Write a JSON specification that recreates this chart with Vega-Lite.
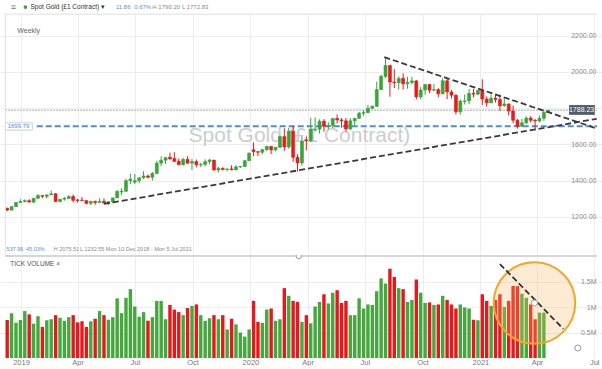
{
  "$schema": "https://vega.github.io/schema/vega-lite/v6.json",
  "padding": 0,
  "background": "white",
  "spacing": 0,
  "config": {"view": {"stroke": null}, "font": "Liberation Sans"},
  "datasets": {
    "ohlc": [
      {"d":"2018-12-10","o":1248,"h":1252,"l":1232.55,"c":1238,"v":0.745},
      {"d":"2018-12-17","o":1238,"h":1260,"l":1236,"c":1257,"v":0.88},
      {"d":"2018-12-24","o":1257,"h":1283,"l":1255,"c":1280,"v":0.69},
      {"d":"2018-12-31","o":1280,"h":1298,"l":1276,"c":1285,"v":0.745},
      {"d":"2019-01-07","o":1285,"h":1297,"l":1280,"c":1290,"v":0.92},
      {"d":"2019-01-14","o":1290,"h":1298,"l":1281,"c":1282,"v":0.856},
      {"d":"2019-01-21","o":1282,"h":1304,"l":1276,"c":1303,"v":0.673},
      {"d":"2019-01-28","o":1303,"h":1326,"l":1300,"c":1318,"v":0.82},
      {"d":"2019-02-04","o":1318,"h":1319,"l":1304,"c":1314,"v":0.61},
      {"d":"2019-02-11","o":1314,"h":1323,"l":1302,"c":1322,"v":0.74},
      {"d":"2019-02-18","o":1322,"h":1346,"l":1321,"c":1328,"v":0.76},
      {"d":"2019-02-25","o":1328,"h":1332,"l":1283,"c":1285,"v":0.84},
      {"d":"2019-03-04","o":1285,"h":1300,"l":1280,"c":1298,"v":0.79},
      {"d":"2019-03-11","o":1298,"h":1311,"l":1290,"c":1302,"v":0.73},
      {"d":"2019-03-18","o":1302,"h":1320,"l":1299,"c":1313,"v":0.80},
      {"d":"2019-03-25","o":1313,"h":1324,"l":1281,"c":1292,"v":0.84},
      {"d":"2019-04-01","o":1294,"h":1300,"l":1280,"c":1291,"v":0.70},
      {"d":"2019-04-08","o":1293,"h":1310,"l":1289,"c":1290,"v":0.72},
      {"d":"2019-04-15","o":1290,"h":1293,"l":1270,"c":1275,"v":0.61},
      {"d":"2019-04-22","o":1275,"h":1289,"l":1266,"c":1286,"v":0.72},
      {"d":"2019-04-29","o":1286,"h":1290,"l":1267,"c":1280,"v":0.77},
      {"d":"2019-05-06","o":1280,"h":1303,"l":1279,"c":1286,"v":0.92},
      {"d":"2019-05-13","o":1286,"h":1303,"l":1275,"c":1277,"v":0.84},
      {"d":"2019-05-20","o":1277,"h":1287,"l":1266,"c":1284,"v":0.75},
      {"d":"2019-05-27","o":1284,"h":1306,"l":1276,"c":1305,"v":0.80},
      {"d":"2019-06-03","o":1305,"h":1348,"l":1305,"c":1341,"v":1.17},
      {"d":"2019-06-10","o":1338,"h":1358,"l":1321,"c":1342,"v":0.88},
      {"d":"2019-06-17","o":1342,"h":1411,"l":1337,"c":1400,"v":1.18},
      {"d":"2019-06-24","o":1400,"h":1439,"l":1382,"c":1409,"v":1.35},
      {"d":"2019-07-01","o":1392,"h":1437,"l":1382,"c":1400,"v":1.01},
      {"d":"2019-07-08","o":1400,"h":1419,"l":1387,"c":1416,"v":0.81},
      {"d":"2019-07-15","o":1416,"h":1452,"l":1410,"c":1426,"v":0.90},
      {"d":"2019-07-22","o":1426,"h":1434,"l":1412,"c":1419,"v":0.73},
      {"d":"2019-07-29","o":1419,"h":1448,"l":1400,"c":1440,"v":0.80},
      {"d":"2019-08-05","o":1440,"h":1510,"l":1438,"c":1497,"v":1.12},
      {"d":"2019-08-12","o":1497,"h":1535,"l":1480,"c":1513,"v":1.12},
      {"d":"2019-08-19","o":1513,"h":1531,"l":1492,"c":1527,"v":0.76},
      {"d":"2019-08-26","o":1530,"h":1555,"l":1516,"c":1520,"v":1.04},
      {"d":"2019-09-02","o":1522,"h":1557,"l":1503,"c":1507,"v":0.95},
      {"d":"2019-09-09","o":1507,"h":1522,"l":1485,"c":1488,"v":0.90},
      {"d":"2019-09-16","o":1488,"h":1527,"l":1484,"c":1517,"v":0.84},
      {"d":"2019-09-23","o":1517,"h":1535,"l":1491,"c":1497,"v":0.98},
      {"d":"2019-09-30","o":1497,"h":1519,"l":1459,"c":1505,"v":1.02},
      {"d":"2019-10-07","o":1505,"h":1517,"l":1474,"c":1488,"v":1.05},
      {"d":"2019-10-14","o":1488,"h":1498,"l":1475,"c":1490,"v":0.84},
      {"d":"2019-10-21","o":1490,"h":1518,"l":1480,"c":1505,"v":0.73},
      {"d":"2019-10-28","o":1505,"h":1520,"l":1490,"c":1514,"v":0.78},
      {"d":"2019-11-04","o":1514,"h":1514,"l":1456,"c":1459,"v":0.84},
      {"d":"2019-11-11","o":1459,"h":1477,"l":1445,"c":1468,"v":0.76},
      {"d":"2019-11-18","o":1468,"h":1474,"l":1456,"c":1462,"v":0.84},
      {"d":"2019-11-25","o":1462,"h":1466,"l":1452,"c":1465,"v":0.56},
      {"d":"2019-12-02","o":1465,"h":1485,"l":1458,"c":1460,"v":0.77},
      {"d":"2019-12-09","o":1460,"h":1486,"l":1458,"c":1476,"v":0.66},
      {"d":"2019-12-16","o":1476,"h":1482,"l":1470,"c":1478,"v":0.50},
      {"d":"2019-12-23","o":1478,"h":1515,"l":1477,"c":1510,"v":0.42},
      {"d":"2019-12-30","o":1510,"h":1555,"l":1509,"c":1552,"v":0.56},
      {"d":"2020-01-06","o":1570,"h":1611,"l":1535,"c":1560,"v":1.12},
      {"d":"2020-01-13","o":1560,"h":1563,"l":1536,"c":1557,"v":0.71},
      {"d":"2020-01-20","o":1557,"h":1575,"l":1546,"c":1571,"v":0.69},
      {"d":"2020-01-27","o":1571,"h":1592,"l":1563,"c":1589,"v":0.95},
      {"d":"2020-02-03","o":1589,"h":1590,"l":1547,"c":1570,"v":0.97},
      {"d":"2020-02-10","o":1570,"h":1584,"l":1562,"c":1584,"v":0.73},
      {"d":"2020-02-17","o":1584,"h":1649,"l":1581,"c":1643,"v":0.76},
      {"d":"2020-02-24","o":1643,"h":1689,"l":1563,"c":1586,"v":1.37},
      {"d":"2020-03-02","o":1586,"h":1692,"l":1576,"c":1673,"v":1.22},
      {"d":"2020-03-09","o":1673,"h":1703,"l":1504,"c":1529,"v":1.12},
      {"d":"2020-03-16","o":1529,"h":1546,"l":1451,"c":1498,"v":1.10},
      {"d":"2020-03-23","o":1498,"h":1645,"l":1483,"c":1617,"v":0.71},
      {"d":"2020-03-30","o":1625,"h":1644,"l":1567,"c":1620,"v":0.84},
      {"d":"2020-04-06","o":1620,"h":1747,"l":1613,"c":1683,"v":0.68},
      {"d":"2020-04-13","o":1680,"h":1748,"l":1670,"c":1684,"v":1.01},
      {"d":"2020-04-20","o":1684,"h":1738,"l":1659,"c":1728,"v":1.10},
      {"d":"2020-04-27","o":1728,"h":1739,"l":1670,"c":1700,"v":1.25},
      {"d":"2020-05-04","o":1700,"h":1722,"l":1683,"c":1703,"v":1.07},
      {"d":"2020-05-11","o":1703,"h":1745,"l":1690,"c":1743,"v":1.28},
      {"d":"2020-05-18","o":1743,"h":1765,"l":1716,"c":1735,"v":1.33},
      {"d":"2020-05-25","o":1735,"h":1745,"l":1692,"c":1730,"v":1.08},
      {"d":"2020-06-01","o":1730,"h":1745,"l":1670,"c":1685,"v":1.12},
      {"d":"2020-06-08","o":1685,"h":1745,"l":1680,"c":1730,"v":0.84},
      {"d":"2020-06-15","o":1730,"h":1745,"l":1705,"c":1744,"v":0.84},
      {"d":"2020-06-22","o":1744,"h":1779,"l":1741,"c":1772,"v":1.17},
      {"d":"2020-06-29","o":1772,"h":1789,"l":1757,"c":1775,"v":0.97},
      {"d":"2020-07-06","o":1775,"h":1818,"l":1772,"c":1799,"v":1.05},
      {"d":"2020-07-13","o":1799,"h":1815,"l":1795,"c":1810,"v":1.04},
      {"d":"2020-07-20","o":1810,"h":1945,"l":1808,"c":1902,"v":1.31},
      {"d":"2020-07-27","o":1902,"h":1984,"l":1900,"c":1975,"v":1.56},
      {"d":"2020-08-03","o":1975,"h":2075.51,"l":1965,"c":2035,"v":1.46},
      {"d":"2020-08-10","o":2035,"h":2039,"l":1863,"c":1944,"v":1.75},
      {"d":"2020-08-17","o":1944,"h":2015,"l":1911,"c":1940,"v":1.59},
      {"d":"2020-08-24","o":1940,"h":1976,"l":1902,"c":1964,"v":1.37},
      {"d":"2020-08-31","o":1964,"h":1992,"l":1902,"c":1934,"v":1.35},
      {"d":"2020-09-07","o":1934,"h":1973,"l":1907,"c":1941,"v":1.10},
      {"d":"2020-09-14","o":1941,"h":1973,"l":1931,"c":1950,"v":1.14},
      {"d":"2020-09-21","o":1950,"h":1955,"l":1848,"c":1862,"v":1.54},
      {"d":"2020-09-28","o":1862,"h":1917,"l":1848,"c":1900,"v":1.28},
      {"d":"2020-10-05","o":1900,"h":1933,"l":1873,"c":1930,"v":1.08},
      {"d":"2020-10-12","o":1930,"h":1932,"l":1882,"c":1899,"v":1.09},
      {"d":"2020-10-19","o":1899,"h":1933,"l":1893,"c":1902,"v":1.04},
      {"d":"2020-10-26","o":1902,"h":1910,"l":1860,"c":1879,"v":1.05},
      {"d":"2020-11-02","o":1879,"h":1965,"l":1876,"c":1951,"v":1.22},
      {"d":"2020-11-09","o":1951,"h":1966,"l":1850,"c":1889,"v":1.14},
      {"d":"2020-11-16","o":1889,"h":1900,"l":1853,"c":1871,"v":1.05},
      {"d":"2020-11-23","o":1871,"h":1876,"l":1765,"c":1780,"v":0.97},
      {"d":"2020-11-30","o":1780,"h":1848,"l":1764,"c":1839,"v":1.05},
      {"d":"2020-12-07","o":1837,"h":1875,"l":1820,"c":1840,"v":0.99},
      {"d":"2020-12-14","o":1840,"h":1906,"l":1823,"c":1881,"v":0.97},
      {"d":"2020-12-21","o":1881,"h":1906,"l":1860,"c":1877,"v":0.75},
      {"d":"2020-12-28","o":1877,"h":1900,"l":1872,"c":1898,"v":0.74},
      {"d":"2021-01-04","o":1898,"h":1959,"l":1817,"c":1850,"v":1.25},
      {"d":"2021-01-11","o":1850,"h":1864,"l":1808,"c":1829,"v":1.12},
      {"d":"2021-01-18","o":1829,"h":1875,"l":1827,"c":1855,"v":1.02},
      {"d":"2021-01-25","o":1855,"h":1875,"l":1831,"c":1848,"v":1.14},
      {"d":"2021-02-01","o":1848,"h":1875,"l":1785,"c":1813,"v":1.25},
      {"d":"2021-02-08","o":1813,"h":1855,"l":1807,"c":1823,"v":1.00},
      {"d":"2021-02-15","o":1823,"h":1825,"l":1760,"c":1784,"v":1.12},
      {"d":"2021-02-22","o":1784,"h":1815,"l":1717,"c":1733,"v":1.41},
      {"d":"2021-03-01","o":1733,"h":1740,"l":1687,"c":1700,"v":1.41},
      {"d":"2021-03-08","o":1700,"h":1740,"l":1699,"c":1719,"v":1.26},
      {"d":"2021-03-15","o":1719,"h":1755,"l":1713,"c":1745,"v":1.18},
      {"d":"2021-03-22","o":1745,"h":1756,"l":1721,"c":1733,"v":1.05},
      {"d":"2021-03-29","o":1733,"h":1740,"l":1677,"c":1729,"v":0.76},
      {"d":"2021-04-05","o":1729,"h":1758,"l":1721,"c":1744,"v":0.89},
      {"d":"2021-04-12","o":1744,"h":1785,"l":1730,"c":1777,"v":0.89},
      {"d":"2021-04-19","o":1776.37,"h":1790.2,"l":1772.83,"c":1788.23,"v":null}
    ]
  },
  "vconcat": [
    {
      "width": 602,
      "height": 254,
      "encoding": {
        "x": {"field": "d", "type": "temporal",
          "scale": {"domain": [{"year": 2018, "month": 12, "date": 6, "hours": 12}, {"year": 2021, "month": 7, "date": 5, "hours": 12}]},
          "axis": {"title": null, "labels": false, "ticks": false, "tickSize": 0, "labelPadding": 0, "domain": false, "grid": true, "gridColor": "#ededed",
            "minExtent": 0, "maxExtent": 0, "offset": 0,
            "values": [{"year":2019,"month":1,"date":1},{"year":2019,"month":4,"date":1},{"year":2019,"month":7,"date":1},{"year":2019,"month":10,"date":1},{"year":2020,"month":1,"date":1},{"year":2020,"month":4,"date":1},{"year":2020,"month":7,"date":1},{"year":2020,"month":10,"date":1},{"year":2021,"month":1,"date":1},{"year":2021,"month":4,"date":1},{"year":2021,"month":7,"date":1}]}}
      },
      "layer": [
        {
          "data": {"values": [{"d": "2020-03-19", "p": 1646, "t": "Spot Gold (£1 Contract)"}]},
          "mark": {"type": "text", "fontSize": 21, "color": "#cdcdcd", "align": "center", "baseline": "middle"},
          "encoding": {
            "y": {"field": "p", "type": "quantitative",
              "scale": {"domain": [996, 2396], "nice": false, "zero": false},
              "axis": {"title": null, "orient": "right", "offset": -6, "labelAlign": "right", "labelPadding": 0, "ticks": false, "tickSize": 0, "domain": false,
                "gridColor": "#ededed", "labelFontSize": 7, "labelColor": "#8c8c8c",
                "values": [1200, 1400, 1600, 1800, 2000, 2200],
                "labelExpr": "datum.value == 1800 ? '' : format(datum.value, '.2f')"}},
            "text": {"field": "t"}
          }
        },
        {
          "data": {"values": [{"d": "2018-12-06T12:00:00", "d2": "2021-07-05T12:00:00", "p": 1788.23}]},
          "mark": {"type": "rule", "color": "#c4c4c4", "strokeWidth": 1.5, "strokeDash": [2, 1]},
          "encoding": {"x2": {"field": "d2"}, "y": {"field": "p", "type": "quantitative"}}
        },
        {
          "data": {"values": [{"d": "2019-01-26", "d2": "2021-07-05T12:00:00", "p": 1699.79}]},
          "mark": {"type": "rule", "color": "#4a8fde", "strokeWidth": 2, "strokeDash": [6, 3]},
          "encoding": {"x2": {"field": "d2"}, "y": {"field": "p", "type": "quantitative"}}
        },
        {
          "data": {"name": "ohlc"},
          "mark": {"type": "rule", "strokeWidth": 1},
          "encoding": {
            "y": {"field": "l", "type": "quantitative"},
            "y2": {"field": "h"},
            "color": {"condition": {"test": "datum.c >= datum.o", "value": "#3ba33a"}, "value": "#e21d1d"}
          }
        },
        {
          "data": {"name": "ohlc"},
          "mark": {"type": "bar", "width": 3, "strokeWidth": 0.6},
          "encoding": {
            "y": {"field": "o", "type": "quantitative"},
            "y2": {"field": "c"},
            "color": {"condition": {"test": "datum.c >= datum.o", "value": "#3ba33a"}, "value": "#e21d1d"},
            "stroke": {"condition": {"test": "datum.c >= datum.o", "value": "#3ba33a"}, "value": "#e21d1d"}
          }
        },
        {
          "data": {"values": [
            {"d": "2019-05-13", "p": 1272, "d2": "2021-07-05", "p2": 1741},
            {"d": "2020-08-01", "p": 2081, "d2": "2021-07-05", "p2": 1688}
          ]},
          "mark": {"type": "rule", "color": "#3a3a3a", "strokeWidth": 1.8, "strokeDash": [6, 3]},
          "encoding": {"x2": {"field": "d2"}, "y": {"field": "p", "type": "quantitative"}, "y2": {"field": "p2"}}
        },
        {
          "data": {"values": [{"d": "2021-05-22", "d2": "2021-07-02", "p": 1763, "p2": 1817}]},
          "mark": {"type": "rect", "fill": "#4e5c6b"},
          "encoding": {"x2": {"field": "d2"}, "y": {"field": "p", "type": "quantitative"}, "y2": {"field": "p2"}}
        },
        {
          "data": {"values": [{"d": "2018-12-07", "d2": "2019-01-19", "p": 1679, "p2": 1719}]},
          "mark": {"type": "rect", "fill": "white", "stroke": "#c2c2c2", "strokeWidth": 0.8},
          "encoding": {"x2": {"field": "d2"}, "y": {"field": "p", "type": "quantitative"}, "y2": {"field": "p2"}}
        },
        {
          "data": {"values": [{"d": "2021-06-11", "p": 1788.23, "t": "1788.23"}]},
          "mark": {"type": "text", "fontSize": 7, "color": "white", "align": "center", "baseline": "middle"},
          "encoding": {"y": {"field": "p", "type": "quantitative"}, "text": {"field": "t"}}
        },
        {
          "data": {"values": [{"d": "2018-12-28", "p": 1699.79, "t": "1699.79"}]},
          "mark": {"type": "text", "fontSize": 6, "color": "#4a8fde", "align": "center", "baseline": "middle"},
          "encoding": {"y": {"field": "p", "type": "quantitative"}, "text": {"field": "t"}}
        },
        {
          "data": {"values": [{"d": "2018-12-06T12:00:00", "d2": "2021-07-05T12:00:00", "p": 2318, "p2": 2396}]},
          "mark": {"type": "rect", "fill": "white"},
          "encoding": {"x2": {"field": "d2"}, "y": {"field": "p", "type": "quantitative"}, "y2": {"field": "p2"}}
        },
        {
          "data": {"values": [{"d": "2018-12-06T12:00:00", "d2": "2021-07-05T12:00:00", "p": 2318}]},
          "mark": {"type": "rule", "color": "#dedede", "strokeWidth": 1},
          "encoding": {"x2": {"field": "d2"}, "y": {"field": "p", "type": "quantitative"}}
        },
        {
          "data": {"values": [{"d": "2018-12-07", "p": 996, "p2": 2318}]},
          "mark": {"type": "rule", "color": "#e2e2e2", "strokeWidth": 1},
          "encoding": {"y": {"field": "p", "type": "quantitative"}, "y2": {"field": "p2"}}
        },
        {
          "data": {"values": [{"d": "2019-01-08", "p": 2357}]},
          "mark": {"type": "point", "shape": "circle", "filled": true, "size": 14, "color": "#3ba33a", "opacity": 1},
          "encoding": {"y": {"field": "p", "type": "quantitative"}}
        },
        {
          "data": {"values": [{"d": "2018-12-20", "p": 2357, "t": "≡"}]},
          "mark": {"type": "text", "align": "center", "baseline": "middle", "fontSize": 9, "color": "#777777"},
          "encoding": {"y": {"field": "p", "type": "quantitative"}, "text": {"field": "t"}}
        },
        {
          "data": {"values": [{"d": "2019-01-16", "p": 2357, "t": "Spot Gold (£1 Contract) ▾"}]},
          "mark": {"type": "text", "align": "left", "baseline": "middle", "fontSize": 6.5, "color": "#333333"},
          "encoding": {"y": {"field": "p", "type": "quantitative"}, "text": {"field": "t"}}
        },
        {
          "data": {"values": [{"d": "2019-06-01", "p": 2357, "t": "11.86"}, {"d": "2019-06-30", "p": 2357, "t": "0.67%"}]},
          "mark": {"type": "text", "align": "left", "baseline": "middle", "fontSize": 6, "color": "#5b93cf"},
          "encoding": {"y": {"field": "p", "type": "quantitative"}, "text": {"field": "t"}}
        },
        {
          "data": {"values": [{"d": "2019-07-29", "p": 2357, "t": "H 1790.20"}, {"d": "2019-09-14", "p": 2357, "t": "L 1772.83"}]},
          "mark": {"type": "text", "align": "left", "baseline": "middle", "fontSize": 6, "color": "#8a8a8a"},
          "encoding": {"y": {"field": "p", "type": "quantitative"}, "text": {"field": "t"}}
        },
        {
          "data": {"values": [{"d": "2018-12-26", "p": 2225, "t": "Weekly"}]},
          "mark": {"type": "text", "align": "left", "baseline": "middle", "fontSize": 7, "color": "#666666"},
          "encoding": {"y": {"field": "p", "type": "quantitative"}, "text": {"field": "t"}}
        },
        {
          "data": {"values": [{"d": "2018-12-09", "p": 1024, "t": "537.96"}, {"d": "2019-01-09", "p": 1024, "t": "45.03%"}]},
          "mark": {"type": "text", "align": "left", "baseline": "middle", "fontSize": 5.5, "color": "#5b93cf"},
          "encoding": {"y": {"field": "p", "type": "quantitative"}, "text": {"field": "t"}}
        },
        {
          "data": {"values": [{"d": "2019-02-22", "p": 1024, "t": "H 2075.51"}, {"d": "2019-04-05", "p": 1024, "t": "L 1232.55"}, {"d": "2019-05-16", "p": 1024, "t": "Mon 10 Dec 2018 - Mon 5 Jul 2021"}]},
          "mark": {"type": "text", "align": "left", "baseline": "middle", "fontSize": 5.5, "color": "#8a8a8a"},
          "encoding": {"y": {"field": "p", "type": "quantitative"}, "text": {"field": "t"}}
        }
      ]
    },
    {
      "width": 602,
      "height": 103,
      "encoding": {
        "x": {"field": "d", "type": "temporal",
          "scale": {"domain": [{"year": 2018, "month": 12, "date": 6, "hours": 12}, {"year": 2021, "month": 7, "date": 5, "hours": 12}]},
          "axis": {"title": null, "ticks": false, "tickSize": 0, "domain": false, "grid": true, "gridColor": "#ededed",
            "labelPadding": 0, "labelFontSize": 7.5, "labelColor": "#7a7a7a", "labelFlush": false, "labelOverlap": false,
            "labelExpr": "month(datum.value) == 0 ? timeFormat(datum.value, '%Y') : timeFormat(datum.value, '%b')",
            "values": [{"year":2019,"month":1,"date":1},{"year":2019,"month":4,"date":1},{"year":2019,"month":7,"date":1},{"year":2019,"month":10,"date":1},{"year":2020,"month":1,"date":1},{"year":2020,"month":4,"date":1},{"year":2020,"month":7,"date":1},{"year":2020,"month":10,"date":1},{"year":2021,"month":1,"date":1},{"year":2021,"month":4,"date":1},{"year":2021,"month":7,"date":1}]}}
      },
      "layer": [
        {
          "data": {"name": "ohlc"},
          "mark": {"type": "bar", "width": 3.4},
          "encoding": {
            "y": {"field": "v", "type": "quantitative",
              "scale": {"domain": [0, 2.02], "nice": false},
              "axis": {"title": null, "orient": "right", "offset": -6, "labelAlign": "right", "labelPadding": 0, "ticks": false, "tickSize": 0, "domain": false,
                "gridColor": "#ededed", "labelFontSize": 7, "labelColor": "#8c8c8c",
                "values": [0.5, 1, 1.5], "labelExpr": "datum.value + 'M'"}},
            "color": {"condition": {"test": "datum.c >= datum.o", "value": "#44a83c"}, "value": "#e4191c"}
          }
        },
        {
          "data": {"values": [{"d": "2018-12-06T12:00:00", "d2": "2021-07-05T12:00:00", "v": 2.0}]},
          "mark": {"type": "rule", "color": "#d6d6d6", "strokeWidth": 2},
          "encoding": {"x2": {"field": "d2"}, "y": {"field": "v", "type": "quantitative"}}
        },
        {
          "data": {"values": [{"d": "2018-12-15", "v": 1.84, "t": "TICK VOLUME  ×"}]},
          "mark": {"type": "text", "align": "left", "baseline": "middle", "fontSize": 6.5, "color": "#555555"},
          "encoding": {"y": {"field": "v", "type": "quantitative"}, "text": {"field": "t"}}
        },
        {
          "data": {"values": [{"d": "2021-03-28", "v": 1.078}]},
          "mark": {"type": "point", "shape": "circle", "size": 6650, "fill": "#f8b860", "fillOpacity": 0.28, "stroke": "#f3a52c", "strokeWidth": 2, "strokeOpacity": 1, "opacity": 1, "clip": true},
          "encoding": {"y": {"field": "v", "type": "quantitative"}}
        },
        {
          "data": {"values": [{"d": "2021-02-01", "v": 1.843, "d2": "2021-05-13", "v2": 0.569}]},
          "mark": {"type": "rule", "color": "#333333", "strokeWidth": 1.8, "strokeDash": [6, 3]},
          "encoding": {"x2": {"field": "d2"}, "y": {"field": "v", "type": "quantitative"}, "y2": {"field": "v2"}}
        },
        {
          "data": {"values": [{"d": "2021-03-28", "v": 1.08}, {"d": "2021-06-05", "v": 0.196}]},
          "mark": {"type": "point", "shape": "circle", "size": 36, "fill": "white", "fillOpacity": 1, "stroke": "#9a9a9a", "strokeWidth": 1, "opacity": 1},
          "encoding": {"y": {"field": "v", "type": "quantitative"}}
        },
        {
          "data": {"values": [{"d": "2020-03-18", "v": 2.0}]},
          "mark": {"type": "point", "shape": "circle", "size": 30, "fill": "white", "fillOpacity": 1, "stroke": "#9a9a9a", "strokeWidth": 1, "opacity": 1, "clip": true},
          "encoding": {"y": {"field": "v", "type": "quantitative"}}
        }
      ]
    }
  ]
}
